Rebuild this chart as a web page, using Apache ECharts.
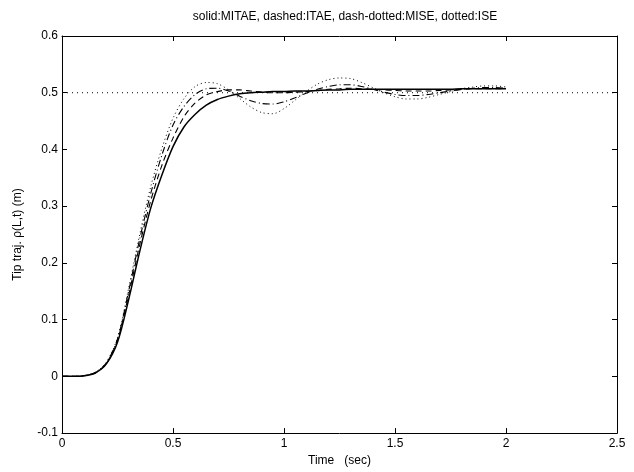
<!DOCTYPE html>
<html>
<head>
<meta charset="utf-8">
<script src="https://cdn.jsdelivr.net/npm/echarts@6/dist/echarts.min.js"></script>
<style>
  html, body { margin: 0; padding: 0; background: #fff; }
  #main { width: 634px; height: 472px; }
</style>
</head>
<body>
<div id="main"></div>
<script>
// time samples (sec)
var timeArr = [0, 0.05, 0.1, 0.15, 0.2, 0.25, 0.3, 0.35, 0.4, 0.45, 0.5, 0.55, 0.6, 0.65, 0.7, 0.75, 0.8, 0.85, 0.9, 0.95,
  1.0, 1.05, 1.1, 1.15, 1.2, 1.25, 1.3, 1.35, 1.4, 1.45, 1.5, 1.55, 1.6, 1.65, 1.7, 1.75, 1.8, 1.85, 1.9, 1.95, 2.0];

// solid: MITAE
var mitae = [0, 0, 0.001, 0.006, 0.022, 0.06, 0.135, 0.22, 0.297, 0.355, 0.405, 0.44, 0.462, 0.478, 0.488, 0.494, 0.498, 0.5, 0.501, 0.502,
  0.502, 0.503, 0.503, 0.504, 0.505, 0.505, 0.506, 0.506, 0.506, 0.506, 0.506, 0.506, 0.506, 0.506, 0.506, 0.506, 0.507, 0.507, 0.507, 0.507, 0.507];

// dashed: ITAE
var itae = [0, 0, 0.001, 0.006, 0.023, 0.064, 0.143, 0.232, 0.31, 0.372, 0.42, 0.458, 0.482, 0.496, 0.502, 0.505, 0.505, 0.503, 0.501, 0.5,
  0.5, 0.501, 0.502, 0.504, 0.506, 0.507, 0.508, 0.507, 0.506, 0.505, 0.504, 0.503, 0.503, 0.503, 0.504, 0.505, 0.506, 0.507, 0.507, 0.507, 0.507];

// dash-dotted: MISE
var mise = [0, 0, 0.001, 0.007, 0.024, 0.066, 0.15, 0.242, 0.323, 0.39, 0.443, 0.476, 0.497, 0.507, 0.508, 0.503, 0.494, 0.486, 0.481, 0.48,
  0.484, 0.491, 0.499, 0.506, 0.511, 0.514, 0.514, 0.511, 0.506, 0.501, 0.497, 0.495, 0.495, 0.497, 0.5, 0.503, 0.506, 0.508, 0.509, 0.509, 0.508];

// dotted: ISE
var ise = [0, 0, 0.001, 0.007, 0.025, 0.068, 0.155, 0.25, 0.335, 0.402, 0.455, 0.49, 0.511, 0.518, 0.516, 0.505, 0.49, 0.475, 0.465, 0.463,
  0.472, 0.487, 0.502, 0.515, 0.523, 0.526, 0.525, 0.518, 0.509, 0.5, 0.493, 0.489, 0.489, 0.492, 0.497, 0.502, 0.507, 0.51, 0.512, 0.512, 0.51];

// reference level
var refX = [0, 2.5];
var refY = [0.5, 0.5];

function pairs(xs, ys) {
  var temp = [];
  for (var i = 0; i < xs.length; i++) {
    temp.push([xs[i], ys[i]]);
  }
  return temp;
}

var fontName = 'Liberation Sans, Arial, sans-serif';
var chart = echarts.init(document.getElementById('main'), null, { renderer: 'canvas' });

var lineBase = {
  type: 'line',
  showSymbol: false,
  smooth: 0.3,
  silent: true,
  animation: false
};

function makeSeries(data, width, type) {
  return Object.assign({}, lineBase, {
    data: data,
    lineStyle: { color: '#000', width: width, type: type }
  });
}

var tickStyle = { inside: true, length: 5, lineStyle: { color: '#000' } };
var lineStyleAxis = { show: true, onZero: false, lineStyle: { color: '#000', width: 1 } };

var option = {
  backgroundColor: '#fff',
  animation: false,
  title: {
    text: 'solid:MITAE, dashed:ITAE, dash-dotted:MISE, dotted:ISE',
    left: 340,
    top: 6,
    textAlign: 'center',
    textStyle: { fontFamily: fontName, fontSize: 12, fontWeight: 'normal', color: '#000' }
  },
  grid: { left: 62, right: 17, top: 36, bottom: 32 },
  xAxis: [{
    type: 'value',
    min: 0, max: 2.5, interval: 0.5,
    name: 'Time   (sec)',
    nameLocation: 'middle',
    nameGap: 21,
    nameTextStyle: { fontFamily: fontName, fontSize: 12, color: '#000' },
    axisLine: lineStyleAxis,
    axisTick: tickStyle,
    axisLabel: { fontFamily: fontName, fontSize: 12, color: '#000', margin: 5 },
    splitLine: { show: false }
  }, {
    type: 'value',
    position: 'top',
    min: 0, max: 2.5, interval: 0.5,
    axisLine: lineStyleAxis,
    axisTick: tickStyle,
    axisLabel: { show: false },
    splitLine: { show: false }
  }],
  yAxis: [{
    type: 'value',
    min: -0.1, max: 0.6, interval: 0.1,
    name: 'Tip traj. \u03c1(L,t) (m)',
    nameLocation: 'middle',
    nameGap: 38,
    nameTextStyle: { fontFamily: fontName, fontSize: 12, color: '#000' },
    axisLine: lineStyleAxis,
    axisTick: tickStyle,
    axisLabel: {
      fontFamily: fontName, fontSize: 12, color: '#000', margin: 4,
      formatter: function (v) {
        var r = Math.round(v * 10) / 10;
        return r === 0 ? '0' : String(r);
      }
    },
    splitLine: { show: false }
  }, {
    type: 'value',
    position: 'right',
    min: -0.1, max: 0.6, interval: 0.1,
    axisLine: lineStyleAxis,
    axisTick: tickStyle,
    axisLabel: { show: false },
    splitLine: { show: false }
  }],
  series: [
    Object.assign({}, lineBase, {
      smooth: false,
      data: pairs(refX, refY),
      lineStyle: { color: '#000', width: 1, type: [1, 4] }
    }),
    makeSeries(pairs(timeArr, ise), 1, [1, 3]),
    makeSeries(pairs(timeArr, mise), 1.1, [7, 3, 1, 3]),
    makeSeries(pairs(timeArr, itae), 1.1, [6, 4]),
    makeSeries(pairs(timeArr, mitae), 1.5, 'solid')
  ]
};

chart.setOption(option);
</script>
</body>
</html>
